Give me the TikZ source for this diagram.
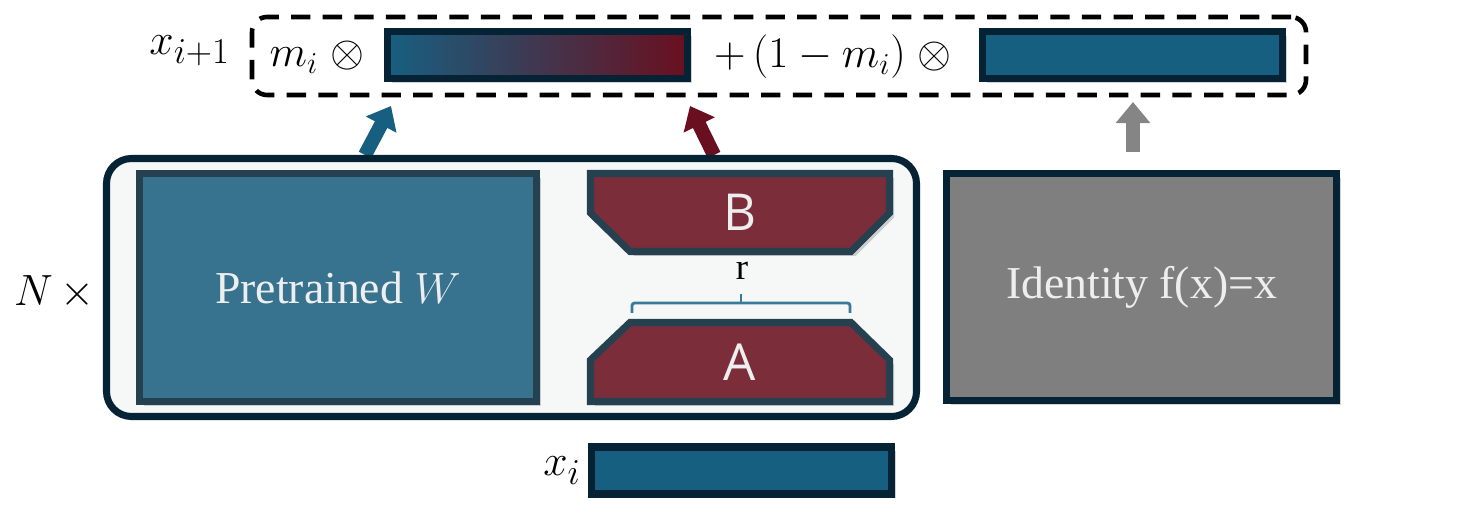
\documentclass[tikz,border=0pt]{standalone}
\usepackage{amsmath}
\usepackage{fontspec}
\setmainfont{Liberation Serif}
\newfontfamily\lorafont{Open Sans}
\usepackage{tikz}
\usetikzlibrary{
    arrows.meta,
    positioning,
    shadows
}
\usepackage{xcolor}
\definecolor{frameink}{HTML}{062335}
\definecolor{boxink}{HTML}{25404F}
\definecolor{wblue}{HTML}{37738F}
\definecolor{vecblue}{HTML}{175F80}
\definecolor{lorared}{HTML}{7B2D3A}
\definecolor{deepred}{HTML}{6A0F1F}
\definecolor{idgray}{HTML}{7F7F7F}
\definecolor{arrowgray}{HTML}{858585}
\definecolor{bracecol}{HTML}{3A7A99}
\definecolor{paper}{HTML}{F6F7F7}
\definecolor{softwhite}{HTML}{EEEEEE}

\begin{document}
\begin{tikzpicture}[
        >=Stealth,
        shade box/.style={
            drop shadow={shadow xshift=0.09cm, shadow yshift=-0.09cm, opacity=0.35}
        },
        vec/.style={
            draw=frameink,
            line width=4pt,
            fill=vecblue,
            minimum width=6cm,
            minimum height=0.94cm,
            inner sep=0pt,
            shade box
        },
        block/.style={
            line width=4pt,
            inner sep=0pt,
            shade box,
            text=softwhite,
            font=\fontsize{26}{30}\selectfont
        },
        lora/.style={
            draw=boxink,
            fill=lorared,
            line width=4pt,
            shade box
        },
        fat/.style={
            line width=8pt,
            -{Triangle[length=12pt,width=19pt]}
        },
        bigmath/.style={font=\fontsize{30}{34}\selectfont},
        rowmath/.style={font=\fontsize{26}{30}\selectfont}
    ]
    \useasboundingbox (0,0) rectangle (29.56,10.34);

    % output row
    \node[draw, line width=2.6pt, dash pattern=on 11pt off 7pt,
        rounded corners=0.3cm, minimum width=21.08cm, minimum height=1.56cm] (gate) at (15.58,9.22) {};
    \node[bigmath, anchor=east] (xnext) at (4.72,9.32) {$x_{i+1}$};
    \node[rowmath] (mi) at (6.34,9.2) {$m_i\;\otimes$};
    \node[vec, left color=vecblue, right color=deepred] (mix) at (10.75,9.24) {};
    \node[rowmath] (rest) at (16.66,9.2) {$+\,(1-m_i)\;\otimes$};
    \node[vec] (keep) at (22.65,9.24) {};

    % arrows
    \coordinate (wfoot) at (7.30,7.24);
    \coordinate (wtip) at (7.82,8.22);
    \coordinate (abfoot) at (14.28,7.24);
    \coordinate (abtip) at (13.80,8.22);
    \coordinate (idfoot) at (22.66,7.30);
    \coordinate (idtip) at (22.66,8.30);
    \draw[fat, vecblue] (wfoot) -- (wtip);
    \draw[fat, deepred] (abfoot) -- (abtip);
    \draw[fat, arrowgray] (idfoot) -- (idtip);

    % layer
    \node[draw=frameink, line width=4pt, fill=paper, rounded corners=0.5cm,
        minimum width=16.2cm, minimum height=5.16cm] (frame) at (10.23,4.59) {};
    \node[bigmath, left=0.05cm of frame, yshift=-0.1cm] (reps) {$N\,\times$};
    \node[block, draw=boxink, fill=wblue, minimum width=7.94cm, minimum height=4.56cm] (W) at (6.76,4.59) {Pretrained $W$};

    % low rank pair
    \filldraw[lora] (11.81,6.87) -- (17.79,6.87) -- (17.79,6.08) -- (17.02,5.31)
        -- (12.6,5.31) -- (11.81,6.08) -- cycle;
    \filldraw[lora] (12.6,3.89) -- (17.02,3.89) -- (17.79,3.14) -- (17.79,2.31)
        -- (11.81,2.31) -- (11.81,3.14) -- cycle;
    \node[text=softwhite, font=\lorafont\fontsize{29}{32}\selectfont] (B) at (14.8,6.09) {B};
    \node[text=softwhite, font=\lorafont\fontsize{29}{32}\selectfont] (A) at (14.8,3.1) {A};
    \draw[bracecol, line width=1.6pt, rounded corners=1.5pt]
        (12.64,4.08) -- (12.64,4.28) -- (17.0,4.28) -- (17.0,4.08);
    \draw[bracecol, line width=1.6pt] (14.82,4.28) -- (14.82,4.46);
    \node[font=\fontsize{21}{24}\selectfont] (rank) at (14.84,4.92) {r};

    % identity branch
    \node[block, draw=frameink, fill=idgray, minimum width=7.8cm, minimum height=4.54cm] (id) at (22.83,4.6) {Identity f(x)=x};

    % input
    \node[vec] (xin) at (14.83,0.93) {};
    \node[bigmath, left=0.02cm of xin] (xlab) {$x_i$};

\end{tikzpicture}
\end{document}
